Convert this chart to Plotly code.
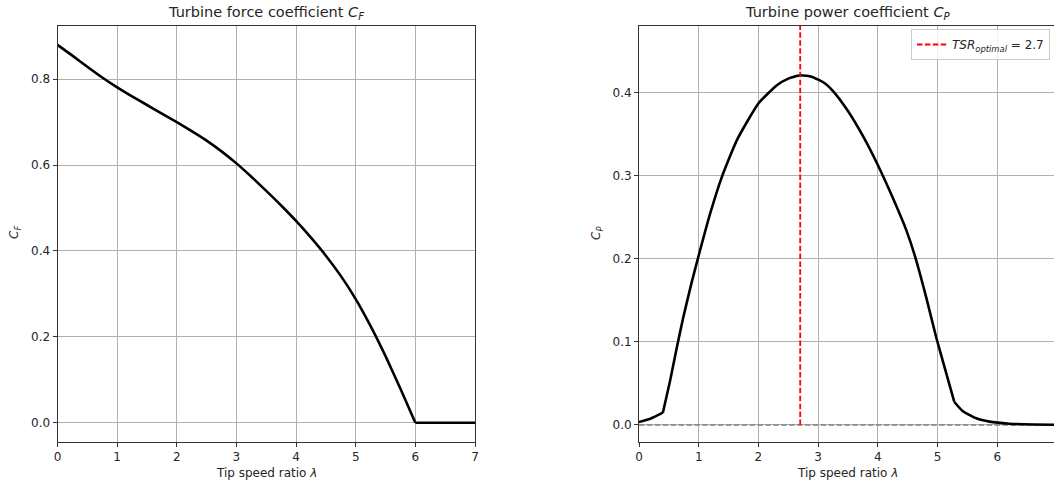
import plotly.graph_objects as go

# ---------------- data ----------------
lam_cf = [0.0, 0.25, 0.5, 0.75, 1.0, 1.25, 1.5, 1.75, 2.0, 2.25, 2.5, 2.75, 3.0,
          3.25, 3.5, 3.75, 4.0, 4.25, 4.5, 4.75, 5.0, 5.25, 5.5, 5.75, 6.0, 6.5, 7.0]
cf_vals = [0.880, 0.855, 0.829, 0.804, 0.781, 0.760, 0.740, 0.720, 0.700, 0.679, 0.657,
           0.632, 0.604, 0.573, 0.540, 0.506, 0.470, 0.431, 0.389, 0.342, 0.288, 0.225,
           0.155, 0.079, 0.0, 0.0, 0.0]

lam_cp = [0.0, 0.2, 0.4, 0.52, 0.63, 0.74, 0.88, 1.0, 1.19, 1.39, 1.64, 2.0, 2.31, 2.5,
          2.7, 2.9, 3.1, 3.25, 3.5, 3.75, 4.0, 4.26, 4.48, 4.62, 4.81, 4.98, 5.14, 5.28,
          5.42, 5.65, 5.87, 6.2, 6.6, 7.0]
cp_vals = [0.0036, 0.0078, 0.0148, 0.053, 0.092, 0.129, 0.171, 0.204, 0.254, 0.299,
           0.343, 0.387, 0.409, 0.417, 0.421, 0.419, 0.412, 0.402, 0.378, 0.348, 0.313,
           0.272, 0.234, 0.204, 0.154, 0.105, 0.064, 0.028, 0.0168, 0.008, 0.004, 0.0015,
           0.0005, 0.0002]

TSR_OPT = 2.7
x_ticks = [0, 1, 2, 3, 4, 5, 6, 7]
cf_ticks = [0.0, 0.2, 0.4, 0.6, 0.8]
cp_ticks = [0.0, 0.1, 0.2, 0.3, 0.4]

# ---------------- figure ----------------
W, H = 1054, 487
FONT = "DejaVu Sans"
TXT = "#262626"

CF_RANGE = [-0.0438, 0.924]
CP_RANGE = [-0.0199, 0.4803]

fig = go.Figure()


def pieces(xs, ys, breaks):
    """split a curve at kink x-values so each smooth piece can be splined"""
    out, cur_x, cur_y = [], [], []
    for x, y in zip(xs, ys):
        cur_x.append(x)
        cur_y.append(y)
        if x in breaks:
            out.append((cur_x, cur_y))
            cur_x, cur_y = [x], [y]
    if len(cur_x) > 1:
        out.append((cur_x, cur_y))
    return out


LINE = dict(color="black", width=2.6, shape="spline", smoothing=0.5)

# left panel
for px, py in pieces(lam_cf, cf_vals, {6.0}):
    fig.add_trace(go.Scatter(x=px, y=py, mode="lines", line=LINE,
                             xaxis="x", yaxis="y", showlegend=False))

# right panel
fig.add_trace(go.Scatter(x=[x_ticks[0], x_ticks[-1]], y=[0, 0], mode="lines",
                         line=dict(color="gray", width=1.5, dash="5.5px,2.4px"),
                         xaxis="x2", yaxis="y2", showlegend=False))
for px, py in pieces(lam_cp, cp_vals, {0.4, 5.28}):
    fig.add_trace(go.Scatter(x=px, y=py, mode="lines", line=LINE,
                             xaxis="x2", yaxis="y2", showlegend=False))
fig.add_trace(go.Scatter(x=[TSR_OPT, TSR_OPT], y=[0, CP_RANGE[1]], mode="lines",
                         line=dict(color="red", width=1.8, dash="5.5px,2.4px"),
                         xaxis="x2", yaxis="y2",
                         name="<i>TSR</i><sub><i>optimal</i></sub> = %.1f" % TSR_OPT,
                         showlegend=True))

y_dom = [1 - 441.5 / H, 1 - 26 / H]
left_dom = [57.5 / W, 475 / W]
right_dom = [639 / W, 1.0]
right_xmax = (W - 639) / 59.7

axis_common = dict(showline=True, mirror=True, linecolor="#333", linewidth=1,
                   ticks="outside", ticklen=4, tickcolor="#333", tickwidth=1,
                   showgrid=True, gridcolor="#b0b0b0", gridwidth=1, zeroline=False,
                   automargin=False,
                   tickfont=dict(family=FONT, size=12, color=TXT))

fig.update_layout(
    width=W, height=H, autosize=False,
    margin=dict(l=0, r=0, t=0, b=0),
    paper_bgcolor="white", plot_bgcolor="white",
    font=dict(family=FONT, size=12, color=TXT),
    xaxis=dict(domain=left_dom, range=[0, 7], tickvals=x_ticks, anchor="y", **axis_common),
    yaxis=dict(domain=y_dom, range=CF_RANGE, tickvals=cf_ticks, tickformat=".1f",
               anchor="x", **axis_common),
    xaxis2=dict(domain=right_dom, range=[0, right_xmax], tickvals=x_ticks, anchor="y2",
                **axis_common),
    yaxis2=dict(domain=y_dom, range=CP_RANGE, tickvals=cp_ticks, tickformat=".1f",
                anchor="x2", **axis_common),
    legend=dict(x=1050 / W, xanchor="right", y=1 - 29 / H, yanchor="top",
                bgcolor="rgba(255,255,255,0.8)", bordercolor="#cccccc", borderwidth=1,
                font=dict(family=FONT, size=12, color=TXT), itemwidth=30),
)

ann = []
# titles
ann.append(dict(text="Turbine force coefficient <i>C</i><sub><i>F</i></sub>",
                xref="x", yref="paper", x=3.5, y=1 - 13 / H, showarrow=False,
                xanchor="center", yanchor="middle",
                font=dict(family=FONT, size=14.5, color=TXT)))
ann.append(dict(text="Turbine power coefficient <i>C</i><sub><i>P</i></sub>",
                xref="x2", yref="paper", x=3.5, y=1 - 13 / H, showarrow=False,
                xanchor="center", yanchor="middle",
                font=dict(family=FONT, size=14.5, color=TXT)))
# x labels
for xr in ("x", "x2"):
    ann.append(dict(text="Tip speed ratio <i>λ</i>", xref=xr, yref="paper", x=3.5,
                    y=1 - 473 / H, showarrow=False, xanchor="center", yanchor="middle",
                    font=dict(family=FONT, size=12, color=TXT)))
# y labels
ann.append(dict(text="<i>C</i><sub><i>F</i></sub>", xref="paper", yref="paper",
                x=15 / W, y=1 - 233 / H, textangle=-90, showarrow=False,
                xanchor="center", yanchor="middle",
                font=dict(family=FONT, size=12, color=TXT)))
ann.append(dict(text="<i>C</i><sub><i>P</i></sub>", xref="paper", yref="paper",
                x=597 / W, y=1 - 233 / H, textangle=-90, showarrow=False,
                xanchor="center", yanchor="middle",
                font=dict(family=FONT, size=12, color=TXT)))
fig.update_layout(annotations=ann)

fig.write_html("out.html")
